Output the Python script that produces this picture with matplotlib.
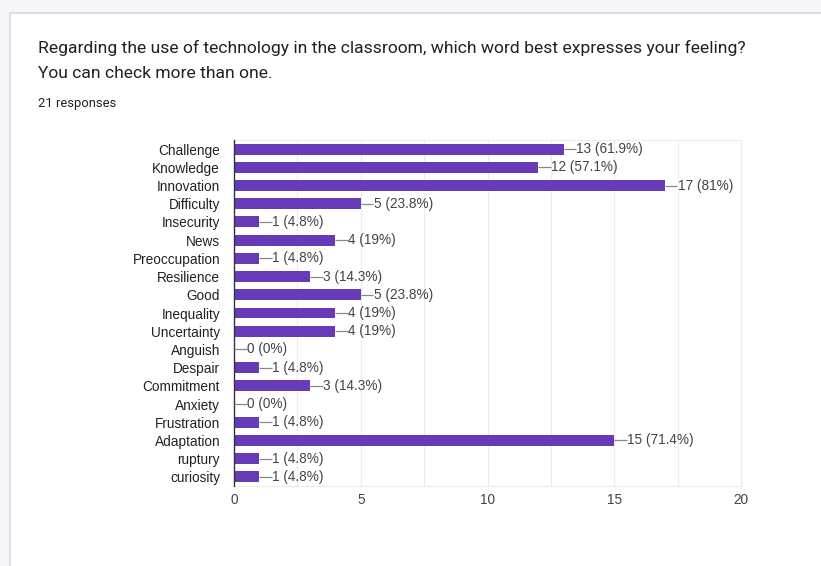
import matplotlib
matplotlib.use("Agg")
import matplotlib.pyplot as plt
from matplotlib.patches import Rectangle
from matplotlib.transforms import offset_copy

title_lines = [
    "Regarding the use of technology in the classroom, which word best expresses your feeling?",
    "You can check more than one.",
]
responses_note = "21 responses"
total_responses = 21

categories = [
    "Challenge", "Knowledge", "Innovation", "Difficulty", "Insecurity", "News",
    "Preoccupation", "Resilience", "Good", "Inequality", "Uncertainty", "Anguish",
    "Despair", "Commitment", "Anxiety", "Frustration", "Adaptation", "ruptury",
    "curiosity",
]
counts = [13, 12, 17, 5, 1, 4, 1, 3, 5, 4, 4, 0, 1, 3, 0, 1, 15, 1, 1]
x_ticks = [0, 5, 10, 15, 20]

BAR = "#673ab7"
TEXT = "#444444"

fig = plt.figure(figsize=(8.21, 5.66), dpi=100)
fig.patch.set_facecolor("#f7f7f9")

# card background with lavender border
card = Rectangle((10 / 821, -0.02), 1.0, 1 - 13 / 566 + 0.02,
                 transform=fig.transFigure, facecolor="white",
                 edgecolor="#dcdcec", linewidth=1.5, zorder=-10)
fig.patches.append(card)

fig.text(38 / 821, 1 - 48 / 566, title_lines[0], fontsize=12.6,
         family=["Roboto", "DejaVu Sans"], color="#202124", va="center")
fig.text(38 / 821, 1 - 73 / 566, title_lines[1], fontsize=12.6,
         family=["Roboto", "DejaVu Sans"], color="#202124", va="center")
fig.text(38 / 821, 1 - 104 / 566, responses_note, fontsize=9.4,
         family=["Roboto", "DejaVu Sans"], color="#202124", va="center")

ax = fig.add_axes([234 / 821, 1 - 486 / 566, (741 - 234) / 821, (486 - 140) / 566])
ax.set_facecolor("white")

y = list(range(len(categories)))
ax.barh(y, counts, height=0.6, color=BAR, zorder=3)
ax.set_ylim(len(categories) - 0.5, -0.5)
ax.set_xlim(0, 20)

ax.set_yticks(y)
ax.set_yticklabels(categories, fontsize=9.8, family="Liberation Sans", color="#222222")
ax.set_xticks(x_ticks)
ax.set_xticklabels([str(t) for t in x_ticks], fontsize=9.8, family="Liberation Sans", color=TEXT)
ax.tick_params(axis="y", length=0, pad=10)
ax.tick_params(axis="x", length=0, pad=5)

for g in [2.5, 5, 7.5, 10, 12.5, 15, 17.5]:
    ax.axvline(g, color="#ececec", lw=0.8, zorder=1)

for side in ["top", "right", "bottom"]:
    ax.spines[side].set_color("#ececec")
    ax.spines[side].set_linewidth(0.8)
ax.spines["left"].set_color("#333333")
ax.spines["left"].set_linewidth(1.0)
ax.spines["left"].set_zorder(4)

# value labels joined to each bar end by a short leader line
line_end = offset_copy(ax.transData, fig=fig, x=9, y=0, units="points")
text_pos = offset_copy(ax.transData, fig=fig, x=9.3, y=0, units="points")
for i, c in enumerate(counts):
    pct = c / total_responses * 100
    pct_txt = f"{pct:.1f}".rstrip("0").rstrip(".")
    label = f"{c} ({pct_txt}%)"
    ax.plot([c, c], [i, i], alpha=0)  # keep autoscale untouched
    x0, y0 = ax.transData.transform((c, i))
    x1, y1 = line_end.transform((c, i))
    ax.plot([x0, x1], [y0, y1], transform=None, color="#888888", lw=0.9, zorder=5,
            solid_capstyle="butt")
    ax.text(c, i, label, transform=text_pos, va="center", ha="left", fontsize=9.8,
            family="Liberation Sans", color=TEXT, zorder=5)

fig.savefig("out.png", dpi=100, facecolor=fig.get_facecolor())
